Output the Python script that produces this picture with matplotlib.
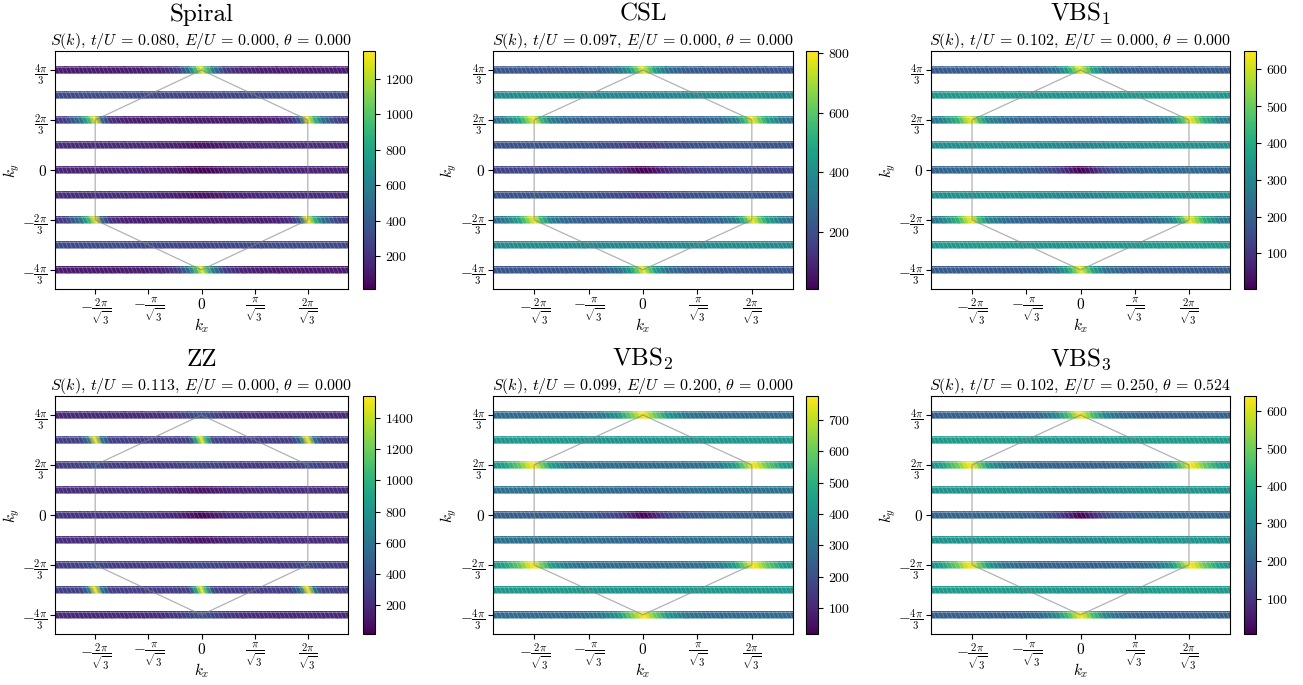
import numpy as np
import matplotlib
matplotlib.use("Agg")
import matplotlib.pyplot as plt
from matplotlib.collections import LineCollection

plt.rcParams.update({
    "font.family": "serif",
    "font.serif": ["cmr10"],
    "mathtext.fontset": "cm",
    "axes.formatter.use_mathtext": True,
    "axes.unicode_minus": False,
})

# ---------------- data ----------------
# kx nodes (kx >= 0); profiles are mirrored to kx < 0
KX_HALF = [0.0, 0.15, 0.4, 0.8, 1.4, 2.0, 2.6, 3.1, 3.4, 3.63, 3.85, 4.1, 4.6, 5.2]
# stripe index m -> ky = m*pi/3 ; rows below are |m| = 0,1,2,3,4
STRIPE_M = [-4, -3, -2, -1, 0, 1, 2, 3, 4]

TITLES = ["Spiral", "CSL", r"VBS$_1$", "ZZ", r"VBS$_2$", r"VBS$_3$"]
T_U = [0.080, 0.097, 0.102, 0.113, 0.099, 0.102]
E_U = [0.000, 0.000, 0.000, 0.000, 0.200, 0.250]
THETA = [0.000, 0.000, 0.000, 0.000, 0.000, 0.524]

SPIRAL = [
    [14, 25, 50, 90, 120, 140, 150, 150, 150, 150, 150, 150, 150, 150],
    [70, 75, 90, 120, 150, 170, 180, 180, 180, 180, 180, 180, 180, 180],
    [110, 110, 110, 110, 115, 120, 140, 200, 450, 1360, 900, 550, 280, 180],
    [280, 280, 285, 290, 300, 310, 320, 320, 320, 320, 320, 320, 310, 300],
    [1360, 1000, 550, 250, 150, 120, 110, 110, 110, 110, 110, 110, 110, 110],
]
CSL = [
    [9, 20, 50, 100, 140, 160, 170, 175, 175, 175, 175, 175, 170, 165],
    [150, 155, 165, 185, 200, 210, 215, 215, 215, 215, 215, 215, 210, 205],
    [230, 230, 230, 235, 240, 250, 280, 350, 550, 808, 650, 480, 330, 270],
    [370, 370, 370, 375, 380, 385, 390, 390, 390, 390, 390, 390, 385, 380],
    [808, 650, 450, 300, 240, 225, 220, 220, 220, 220, 220, 220, 220, 220],
]
VBS1 = [
    [3, 20, 60, 130, 180, 200, 210, 215, 215, 215, 215, 215, 210, 205],
    [290, 290, 295, 305, 315, 320, 325, 325, 325, 325, 325, 325, 320, 320],
    [190, 190, 190, 195, 200, 210, 240, 300, 450, 651, 560, 420, 290, 230],
    [330, 330, 330, 335, 340, 345, 350, 350, 350, 350, 350, 350, 345, 340],
    [651, 540, 380, 250, 200, 190, 185, 185, 185, 185, 185, 185, 185, 185],
]
ZZ = [
    [14, 50, 100, 170, 220, 240, 250, 250, 250, 250, 250, 250, 250, 250],
    [90, 100, 120, 150, 180, 200, 210, 210, 210, 210, 210, 210, 210, 210],
    [330, 330, 320, 300, 280, 270, 280, 300, 330, 370, 340, 310, 290, 280],
    [1543, 1000, 330, 290, 290, 290, 290, 300, 600, 1543, 600, 320, 300, 290],
    [380, 370, 330, 270, 220, 200, 190, 190, 190, 190, 190, 190, 190, 190],
]
VBS2 = [
    [17, 40, 90, 160, 210, 230, 240, 240, 240, 240, 240, 240, 240, 240],
    [260, 260, 265, 275, 285, 290, 295, 295, 295, 295, 295, 295, 295, 295],
    [280, 280, 280, 285, 290, 300, 340, 450, 620, 777, 720, 600, 450, 380],
    [400, 400, 400, 405, 410, 415, 420, 420, 420, 420, 420, 420, 415, 410],
    [777, 720, 600, 420, 320, 290, 280, 280, 280, 280, 280, 280, 280, 280],
]
VBS3 = [
    [5, 25, 70, 140, 185, 200, 210, 210, 210, 210, 210, 210, 210, 205],
    [300, 300, 305, 310, 320, 325, 330, 330, 330, 330, 330, 330, 325, 320],
    [200, 200, 200, 205, 210, 220, 260, 350, 500, 640, 600, 500, 370, 300],
    [330, 330, 330, 335, 340, 345, 350, 350, 350, 350, 350, 350, 345, 340],
    [640, 580, 450, 300, 220, 200, 195, 195, 195, 195, 195, 195, 195, 195],
]
PANELS = [SPIRAL, CSL, VBS1, ZZ, VBS2, VBS3]

CB_TICKS = [
    [200, 400, 600, 800, 1000, 1200],
    [200, 400, 600, 800],
    [100, 200, 300, 400, 500, 600],
    [200, 400, 600, 800, 1000, 1200, 1400],
    [100, 200, 300, 400, 500, 600, 700],
    [100, 200, 300, 400, 500, 600],
]

# ---------------- layout ----------------
W, H = 1303, 685
fig = plt.figure(figsize=(W / 100, H / 100), dpi=100)

AX_LEFT = [55, 493, 931]
AX_W = [293, 300, 299]
CB_LEFT = [363, 806, 1244]
CB_W = 12
AX_TOP = [50.7, 395.7]
AX_H = 238.5

STRIPE_H = 0.14   # half-height of a stripe (ky units)
SHEAR = 0.05      # half horizontal slant of the cells
HATCH_DX = 0.14

kx_half = np.array(KX_HALF)
kx_full = np.concatenate([-kx_half[::-1], kx_half[1:]])

b1 = 2 * np.pi / np.sqrt(3)
hexagon = np.array([[0, 4 * np.pi / 3], [b1, 2 * np.pi / 3], [b1, -2 * np.pi / 3],
                    [0, -4 * np.pi / 3], [-b1, -2 * np.pi / 3], [-b1, 2 * np.pi / 3],
                    [0, 4 * np.pi / 3]])

for i, prof in enumerate(PANELS):
    r, c = divmod(i, 3)
    left = AX_LEFT[c] / W
    bottom = 1 - (AX_TOP[r] + AX_H) / H
    ax = fig.add_axes([left, bottom, AX_W[c] / W, AX_H / H])
    cax = fig.add_axes([CB_LEFT[c] / W, bottom, CB_W / W, AX_H / H])

    allv = np.array(prof, dtype=float)
    vmin, vmax = allv.min(), allv.max()
    mesh = None
    segs = []
    for m in STRIPE_M:
        ky = m * np.pi / 3
        v = np.array(prof[abs(m)], dtype=float)
        vfull = np.concatenate([v[::-1], v[1:]])
        X = np.vstack([kx_full + SHEAR, kx_full - SHEAR])
        Y = np.vstack([np.full_like(kx_full, ky - STRIPE_H), np.full_like(kx_full, ky + STRIPE_H)])
        C = np.vstack([vfull, vfull])
        mesh = ax.pcolormesh(X, Y, C, shading="gouraud", cmap="viridis",
                             vmin=vmin, vmax=vmax, zorder=1)
        for x0 in np.arange(-5.3, 5.4, HATCH_DX):
            segs.append([(x0 + SHEAR, ky - STRIPE_H), (x0 - SHEAR, ky + STRIPE_H)])
        ax.plot([-5.3, 5.3], [ky - STRIPE_H, ky - STRIPE_H], color="white", lw=0.6, alpha=0.35, zorder=2)
        ax.plot([-5.3, 5.3], [ky + STRIPE_H, ky + STRIPE_H], color="white", lw=0.6, alpha=0.35, zorder=2)
    ax.add_collection(LineCollection(segs, colors="white", linewidths=0.45, alpha=0.3, zorder=2))

    ax.plot(hexagon[:, 0], hexagon[:, 1], color="gray", lw=0.9, alpha=0.6, zorder=3)

    ax.set_xlim(-5.0, 5.0)
    ax.set_ylim(-5.0, 5.0)
    ax.set_xticks([-b1, -b1 / 2, 0, b1 / 2, b1])
    ax.set_xticklabels([r"$-\frac{2\pi}{\sqrt{3}}$", r"$-\frac{\pi}{\sqrt{3}}$", r"$0$",
                        r"$\frac{\pi}{\sqrt{3}}$", r"$\frac{2\pi}{\sqrt{3}}$"], fontsize=11)
    ax.set_yticks([-4 * np.pi / 3, -2 * np.pi / 3, 0, 2 * np.pi / 3, 4 * np.pi / 3])
    ax.set_yticklabels([r"$-\frac{4\pi}{3}$", r"$-\frac{2\pi}{3}$", r"$0$",
                        r"$\frac{2\pi}{3}$", r"$\frac{4\pi}{3}$"], fontsize=11)
    ax.tick_params(axis="x", pad=2)
    ax.tick_params(axis="y", pad=2)
    ax.set_xlabel(r"$k_x$", fontsize=11)
    ax.set_ylabel(r"$k_y$", fontsize=11)
    ax.xaxis.set_label_coords(0.5, -0.115)
    ax.yaxis.set_label_coords(-0.112, 0.5)

    ax.set_title(r"$S(k)$, $t/U$ = %.3f, $E/U$ = %.3f, $\theta$ = %.3f"
                 % (T_U[i], E_U[i], THETA[i]), fontsize=11.5, pad=4)
    ax.text(0.5, 1.125, TITLES[i], transform=ax.transAxes, ha="center",
            va="baseline", fontsize=18)

    cb = fig.colorbar(mesh, cax=cax, ticks=CB_TICKS[i])
    cb.ax.tick_params(labelsize=10)
    cb.outline.set_linewidth(0.8)

fig.savefig("out.png", dpi=100)
